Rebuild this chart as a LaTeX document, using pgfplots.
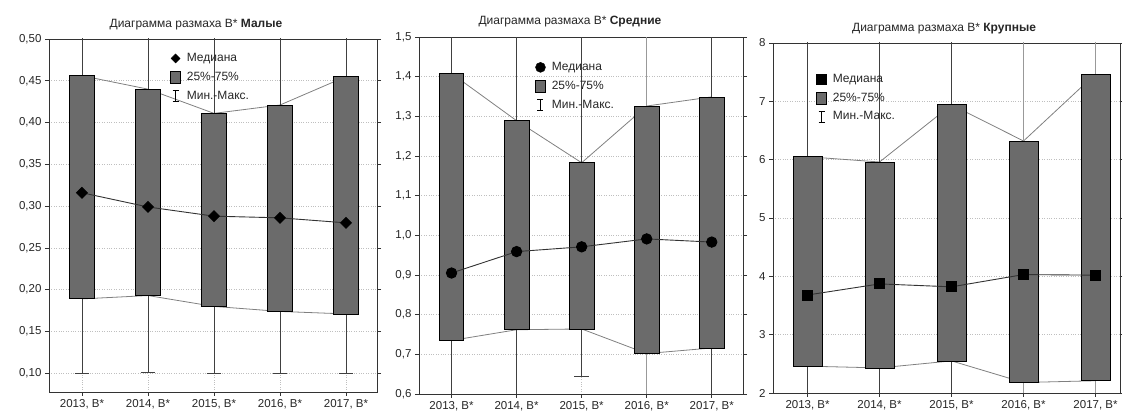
\documentclass[border=0pt]{standalone}
\usepackage{fontspec}
\setmainfont{Liberation Sans}
\usepackage{pgfplots}
\usepackage{pgfplotstable}
\pgfplotsset{compat=1.18}
\usepgfplotslibrary{statistics}
\definecolor{boxgray}{HTML}{6B6B6B}

\pgfplotstableread{
x q1 med q3
0 0.189 0.316 0.456
1 0.193 0.299 0.440
2 0.180 0.288 0.411
3 0.174 0.286 0.421
4 0.171 0.280 0.455
}\dataA
\pgfplotstableread{
x q1 med q3
0 0.735 0.905 1.408
1 0.762 0.959 1.289
2 0.764 0.971 1.183
3 0.702 0.991 1.326
4 0.716 0.983 1.349
}\dataB
\pgfplotstableread{
x q1 med q3
0 2.46 3.68 6.05
1 2.43 3.87 5.96
2 2.55 3.82 6.94
3 2.18 4.03 6.32
4 2.21 4.02 7.47
}\dataC

\newcommand{\boxext}{0.38}
\newcommand{\bx}[7][black!75]{\addplot[forget plot, boxplot prepared={draw direction=y, draw position=#2, lower whisker=#3, lower quartile=#4, median=#5, upper quartile=#6, upper whisker=#7, box extend=\boxext, whisker extend=0.22, draw/median/.code={}, every box/.style={draw=black, fill=boxgray, line width=0.8pt}, every whisker/.style={draw=#1, line width=0.9pt}}] coordinates {};}

\pgfplotsset{
  common/.style={
    scale only axis, anchor=south west,
    xtick={0,1,2,3,4},
    xticklabels={{2013, В*},{2014, В*},{2015, В*},{2016, В*},{2017, В*}},
    xtick pos=lower,
    tick align=outside, major tick length=4pt,
    tick style={black!80, line width=0.7pt},
    axis line style={black!80, line width=0.9pt},
    grid=major, major grid style={dotted, black!25, line width=0.7pt},
    tick label style={font=\fontsize{11.5}{13}\selectfont, text=black!85},
    /pgf/number format/assume math mode=true,
    title style={anchor=center, inner sep=0pt, font=\fontsize{12}{14}\selectfont, text=black!85},
    legend cell align=left,
    legend style={draw=none, fill=none, anchor=north west, font=\fontsize{12}{13}\selectfont, text=black!85, row sep=6.5pt, inner sep=0pt, nodes={inner sep=1pt}, /tikz/every odd column/.append style={column sep=5pt}},
  },
  qline/.style={black!50, line width=0.8pt, no marks},
  medline/.style={black!80, line width=0.9pt},
  boxleg/.style={legend image code/.code={\draw[black, fill=boxgray, line width=0.6pt] (0pt,-6pt) rectangle (10pt,6pt);}},
  whleg/.style={legend image code/.code={\draw[black, line width=0.7pt] (5pt,-5.5pt)--(5pt,5.5pt) (2pt,5.5pt)--(8pt,5.5pt) (2pt,-5.5pt)--(8pt,-5.5pt);}},
}

\begin{document}
\begin{tikzpicture}
\useasboundingbox (0,0) rectangle (1122pt,414pt);
% Panel 1
\begin{axis}[common, at={(49pt,22pt)}, width=328pt, height=353pt,
  xmin=-0.5, xmax=4.47, ymin=0.0776, ymax=0.5,
  ytick={0.10,0.15,0.20,0.25,0.30,0.35,0.40,0.45,0.50},
  yticklabel style={/pgf/number format/.cd, fixed, fixed zerofill, precision=2, use comma},
  title={Диаграмма размаха В* \textbf{Малые}},
  title style={at={(0.448,1)}, yshift=8pt},
  legend style={at={(0.369,0.962)}}]
\addplot[qline, forget plot] table[x=x,y=q3]{\dataA};
\addplot[qline, forget plot] table[x=x,y=q1]{\dataA};
\bx{0}{0.100}{0.189}{0.316}{0.456}{0.6}
\bx{1}{0.101}{0.193}{0.299}{0.440}{0.6}
\bx{2}{0.100}{0.180}{0.288}{0.411}{0.6}
\bx{3}{0.100}{0.174}{0.286}{0.421}{0.6}
\bx{4}{0.100}{0.171}{0.280}{0.455}{0.6}
\addplot[medline, forget plot, mark=square*, mark size=3.8, mark options={rotate=45, solid, fill=black, draw=black}] table[x=x,y=med]{\dataA};
\addlegendimage{legend image code/.code={\fill[black] (5pt,4.5pt)--(9.5pt,0pt)--(5pt,-4.5pt)--(0.5pt,0pt)--cycle;}}
\addlegendentry{Медиана}
\addlegendimage{boxleg}
\addlegendentry{25\%-75\%}
\addlegendimage{whleg}
\addlegendentry{Мин.-Макс.}
\end{axis}
% Panel 2
\begin{axis}[common, at={(419pt,20pt)}, width=324pt, height=357pt,
  xmin=-0.5, xmax=4.48, ymin=0.6, ymax=1.5,
  ytick={0.6,0.7,0.8,0.9,1.0,1.1,1.2,1.3,1.4,1.5},
  yticklabel style={/pgf/number format/.cd, fixed, fixed zerofill, precision=1, use comma},
  title={Диаграмма размаха В* \textbf{Средние}},
  title style={at={(0.466,1)}, yshift=9pt},
  legend style={at={(0.358,0.932)}}]
\addplot[qline, forget plot] table[x=x,y=q3]{\dataB};
\addplot[qline, forget plot] table[x=x,y=q1]{\dataB};
\bx{0}{0.5}{0.735}{0.905}{1.408}{1.6}
\bx{1}{0.5}{0.762}{0.959}{1.289}{1.6}
\bx{2}{0.644}{0.764}{0.971}{1.183}{1.6}
\bx[black!40]{3}{0.5}{0.702}{0.991}{1.326}{1.6}
\bx{4}{0.5}{0.716}{0.983}{1.349}{1.6}
\addplot[medline, forget plot, mark=*, mark size=5.2, mark options={solid, fill=black, draw=black}] table[x=x,y=med]{\dataB};
\addlegendimage{legend image code/.code={\fill[black] (5pt,0pt) circle (5pt);}}
\addlegendentry{Медиана}
\addlegendimage{boxleg}
\addlegendentry{25\%-75\%}
\addlegendimage{whleg}
\addlegendentry{Мин.-Макс.}
\end{axis}
% Panel 3
\renewcommand{\boxext}{0.40}
\begin{axis}[common, at={(773pt,21pt)}, width=347pt, height=350pt,
  xmin=-0.48, xmax=4.34, ymin=2, ymax=8,
  ytick={2,3,4,5,6,7,8},
  title={Диаграмма размаха В* \textbf{Крупные}},
  title style={at={(0.493,1)}, yshift=8.5pt},
  legend style={at={(0.124,0.914)}}]
\addplot[qline, forget plot] table[x=x,y=q3]{\dataC};
\addplot[qline, forget plot] table[x=x,y=q1]{\dataC};
\bx{0}{1.5}{2.46}{3.68}{6.05}{8.5}
\bx{1}{1.5}{2.43}{3.87}{5.96}{8.5}
\bx{2}{1.5}{2.55}{3.82}{6.94}{8.5}
\bx[black!40]{3}{1.5}{2.18}{4.03}{6.32}{8.5}
\bx[black!40]{4}{1.5}{2.21}{4.02}{7.47}{8.5}
\addplot[medline, forget plot, mark=square*, mark size=5, mark options={solid, fill=black, draw=black}] table[x=x,y=med]{\dataC};
\addlegendimage{legend image code/.code={\fill[black] (0pt,-5pt) rectangle (10pt,5pt);}}
\addlegendentry{Медиана}
\addlegendimage{boxleg}
\addlegendentry{25\%-75\%}
\addlegendimage{whleg}
\addlegendentry{Мин.-Макс.}
\end{axis}
\end{tikzpicture}
\end{document}
